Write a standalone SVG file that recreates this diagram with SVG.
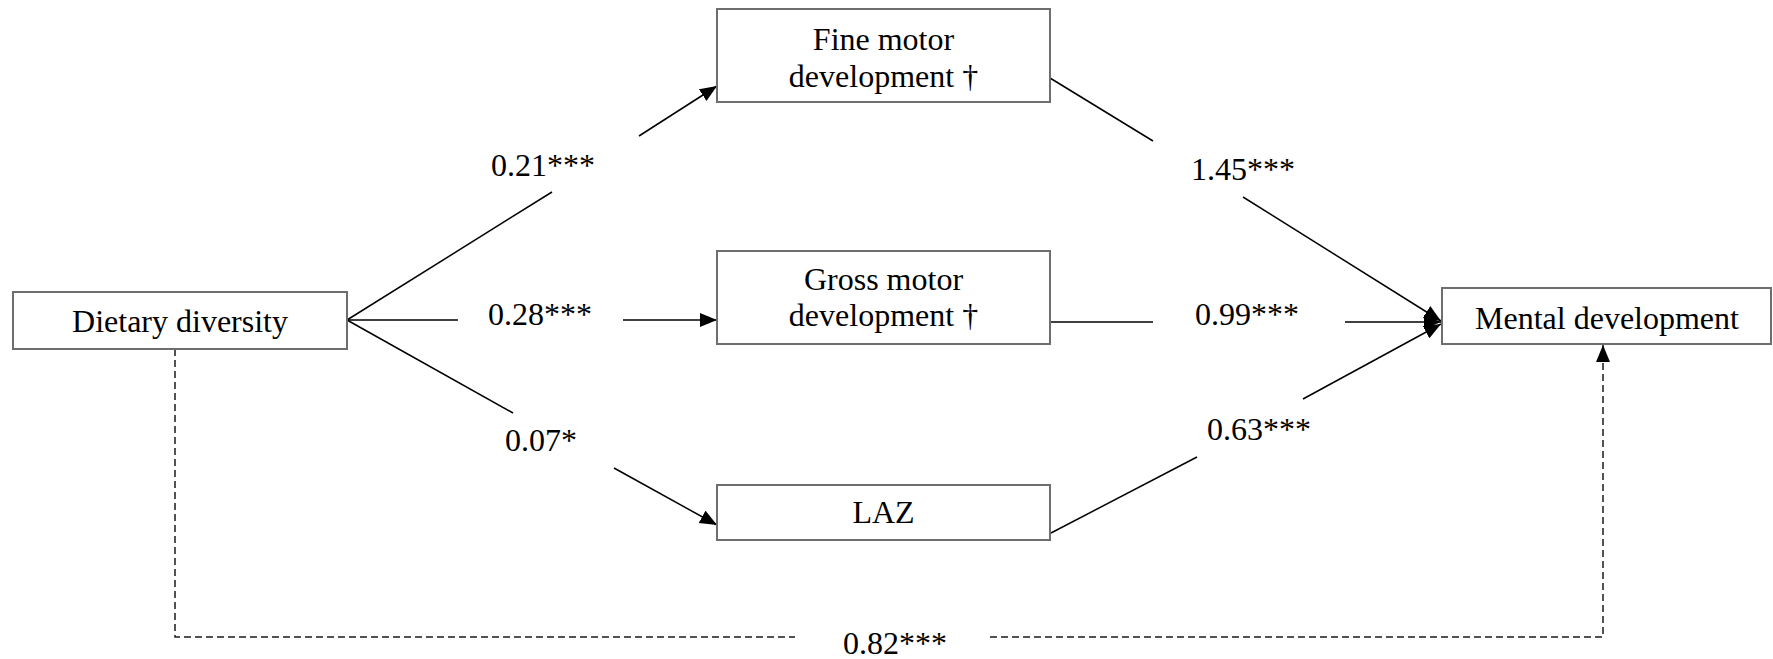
<svg xmlns="http://www.w3.org/2000/svg" width="1773" height="659" viewBox="0 0 1773 659">
  <style>
    .box { fill: #ffffff; stroke: #6e6e6e; stroke-width: 2; }
    .lbl { font-family: "Liberation Serif", "Times New Roman", serif; font-size: 32px; fill: #000; text-anchor: middle; }
    .edge { stroke: #000; stroke-width: 1.5; fill: none; }
    .dash { stroke: #1a1a1a; stroke-width: 1.5; fill: none; stroke-dasharray: 7 4; }
  </style>
  <defs>
    <marker id="arrow" markerUnits="userSpaceOnUse" markerWidth="19" markerHeight="15" refX="17" refY="7" orient="auto">
      <path d="M0,0 L17,7 L0,14 z" fill="#000"/>
    </marker>
  </defs>

  <rect width="1773" height="659" fill="#ffffff"/>

  <!-- connectors -->
  <g id="connectors">
    <!-- Dietary diversity -> Fine motor -->
    <line class="edge" x1="347" y1="320" x2="552" y2="192"/>
    <line class="edge" x1="639" y1="136" x2="717" y2="86" marker-end="url(#arrow)"/>
    <!-- Dietary diversity -> Gross motor -->
    <line class="edge" x1="347" y1="320" x2="458" y2="320"/>
    <line class="edge" x1="623" y1="320" x2="717" y2="320" marker-end="url(#arrow)"/>
    <!-- Dietary diversity -> LAZ -->
    <line class="edge" x1="347" y1="320" x2="513" y2="413"/>
    <line class="edge" x1="614" y1="468" x2="717" y2="525" marker-end="url(#arrow)"/>
    <!-- Fine motor -> Mental -->
    <line class="edge" x1="1050" y1="78" x2="1153" y2="141"/>
    <line class="edge" x1="1243" y1="197" x2="1441" y2="321" marker-end="url(#arrow)"/>
    <!-- Gross motor -> Mental -->
    <line class="edge" x1="1050" y1="322" x2="1153" y2="322"/>
    <line class="edge" x1="1345" y1="322" x2="1441" y2="322" marker-end="url(#arrow)"/>
    <!-- LAZ -> Mental -->
    <line class="edge" x1="1051" y1="533" x2="1197" y2="457"/>
    <line class="edge" x1="1303" y1="399" x2="1441" y2="324" marker-end="url(#arrow)"/>
    <!-- direct effect (dashed) -->
    <polyline class="dash" points="175,349 175,637 795,637"/>
    <polyline class="dash" points="990,637 1603,637 1603,345" marker-end="url(#arrow)"/>

    <text class="lbl" x="543" y="176">0.21***</text>
    <text class="lbl" x="540" y="325">0.28***</text>
    <text class="lbl" x="541" y="451">0.07*</text>
    <text class="lbl" x="1243" y="180">1.45***</text>
    <text class="lbl" x="1247" y="325">0.99***</text>
    <text class="lbl" x="1259" y="440">0.63***</text>
    <text class="lbl" x="895" y="654">0.82***</text>
  </g>

  <g id="dietary">
    <rect class="box" x="13" y="292" width="334" height="57"/>
    <text class="lbl" x="180" y="332">Dietary diversity</text>
  </g>

  <g id="fine-motor">
    <rect class="box" x="717" y="9" width="333" height="93"/>
    <text class="lbl" x="883.5" y="50">Fine motor</text>
    <text class="lbl" x="883.5" y="87">development †</text>
  </g>

  <g id="gross-motor">
    <rect class="box" x="717" y="251" width="333" height="93"/>
    <text class="lbl" x="883.5" y="290">Gross motor</text>
    <text class="lbl" x="883.5" y="326">development †</text>
  </g>

  <g id="laz">
    <rect class="box" x="717" y="485" width="333" height="55"/>
    <text class="lbl" x="883.5" y="523">LAZ</text>
  </g>

  <g id="mental">
    <rect class="box" x="1442" y="288" width="329" height="56"/>
    <text class="lbl" x="1607" y="329">Mental development</text>
  </g>
</svg>
